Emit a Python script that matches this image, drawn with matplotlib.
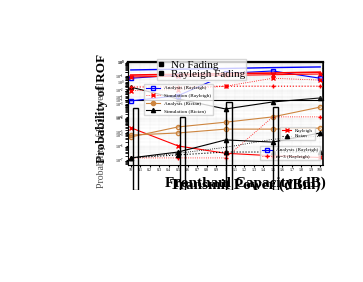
import matplotlib
matplotlib.use("Agg")
import matplotlib.pyplot as plt
import numpy as np
from matplotlib.lines import Line2D

plt.rcParams['font.family'] = ['Liberation Serif', 'DejaVu Serif']

W, H = 363, 282

# ---- data ----
snr = [0, 5, 10, 15, 20]
xtick_labels = ["10", "0.1", "0.2", "0.3", "0.4", "0.5", "0.6", "0.7", "0.8", "0.9", "1",
                "1.1", "1.2", "1.3", "1.4", "1.5", "1.6", "1.7", "1.8", "1.9", "100"]

# lower panel (log scale)
ray_ana = [2e-5, 1e-6, 3e-7, 2e-7, 1.5e-7]
ray_sim = [1.4e-7, 1.4e-7, 1.4e-7, 1.2e-4, 1.2e-4]
ric_ana1 = [4.4e-6, 2.3e-5, 5e-5, 1.2e-4, 6e-4]
ric_ana2 = [6e-6, 8.5e-6, 1.6e-5, 1.6e-5, 1.9e-5]
ric_sim1 = [1.6e-2, 2.3e-3, 4.4e-4, 1.4e-3, 2.7e-3]
ric_sim2 = [1.4e-7, 3.7e-7, 2.7e-6, 1.9e-6, 8.5e-6]
ric_sim3 = [1.4e-7, 2.3e-7, 3.7e-7, 3.7e-7, 3.7e-7]
ric_sim4 = [1.4e-7, 3e-7, 8e-7, 3e-6, 5e-6]

# upper panel
nf_ana = [0.59, 0.62, 0.65, 0.69, 0.72]
nf_sq = [0.34, 0.42, 0.47, 0.55, 0.34]
ray_top = [0.42, 0.44, 0.46, 0.48, 0.51]
ray_top2 = [0.37, 0.39, 0.41, 0.43, 0.45]
ray_dot = [0.19, 0.19, 0.2, 0.2, 0.2]
ray_dot2 = [0.15, 0.16, 0.2, 0.34, 0.3]

# middle panel
blue_rise = [0.085, 0.17, 2.5]

# bars
bar_h = [0.91, 0.81, 0.98, 0.92]
bar_x = [0.2, 5.2, 10.1, 15.0]


def add_ax(x0, y0, x1, y1, **kw):
    return fig.add_axes([x0 / W, 1 - y1 / H, (x1 - x0) / W, (y1 - y0) / H], **kw)


fig = plt.figure(figsize=(W / 100, H / 100), dpi=100)

# ---------- lower main axes ----------
ax = add_ax(128, 62, 323, 165)
ax.set_yscale('log')
ax.plot(snr, ray_ana, color='red', lw=0.8, marker='x', ms=3)
ax.plot(snr, ray_sim, color='red', lw=0.6, ls=':', marker='+', ms=3)
ax.plot(snr, ric_ana1, color='peru', lw=0.8, marker='o', ms=3, mfc='none')
ax.plot(snr, ric_ana2, color='peru', lw=0.8, marker='o', ms=3, mfc='none')
ax.plot(snr, ric_sim1, color='black', lw=0.8, marker='^', ms=3)
ax.plot(snr, ric_sim2, color='black', lw=0.8, marker='^', ms=3)
ax.plot(snr, ric_sim3, color='black', lw=0.8, ls=':', marker='^', ms=3)
ax.plot(snr, ric_sim4, color='black', lw=0.6, ls=':')
ax.set_xlim(-0.3, 20.3)
ax.set_ylim(10 ** -7.36, 1)
ax.grid(True, which='both', color='0.85', lw=0.3, ls=':')
ax.set_xticks(np.linspace(0, 20, len(xtick_labels)))
ax.set_xticklabels(xtick_labels, fontsize=3)
ax.tick_params(labelsize=3, length=1.5, pad=1)
ax.spines['right'].set_linewidth(1.2)
ax.spines['top'].set_linewidth(1.6)
ax.set_xlabel("Fronthaul Capacity (dB)", fontsize=11, fontweight='bold', labelpad=3, x=0.6)
ax.set_ylabel("Probability of ROF", fontsize=9.5, fontweight='bold', labelpad=5, y=0.55)
leg = ax.legend([Line2D([], [], color='red', marker='x', ms=3, lw=0.8),
                 Line2D([], [], color='black', marker='^', ms=3, lw=0.8, ls=':')],
                ["Rayleigh", "Rician"], fontsize=3.5, loc='upper right',
                bbox_to_anchor=(0.97, 0.39), fancybox=False, handlelength=2,
                borderpad=0.3, labelspacing=0.2)
ax.add_artist(leg)
ax.legend([Line2D([], [], color='blue', marker='s', ms=3, mfc='none', lw=0.8),
           Line2D([], [], color='red', marker='+', ms=3, lw=0.6, ls=':')],
          ["Analysis (Rayleigh)", "m=3 (Rayleigh)"], fontsize=3.8, loc='lower right',
          bbox_to_anchor=(1.0, 0.02), fancybox=False, handlelength=2,
          borderpad=0.3, labelspacing=0.3)

# overlapping second x label / y label
ax2 = add_ax(128, 62, 323, 165)
ax2.patch.set_visible(False)
for s in ax2.spines.values():
    s.set_visible(False)
ax2.set_xticks([])
ax2.set_yticks([])
ax2.set_xlabel("Transmit Power (dBm)", fontsize=11, fontweight='bold', labelpad=10, x=0.6)
ax2.set_ylabel("Probability of ROF overall", fontsize=7, labelpad=16, y=0.29, color='0.3')

# ---------- upper panel ----------
axt = add_ax(128, 62, 323, 100)
axt.patch.set_visible(False)
axt.set_yscale('log')
axt.plot(snr, nf_ana, color='blue', lw=1.0)
axt.plot(snr, nf_sq, color='blue', lw=0.8, marker='s', ms=3, mfc='none')
axt.plot(snr, ray_top, color='red', lw=1.2)
axt.plot(snr, ray_top2, color='red', lw=0.8, marker='x', ms=3)
axt.plot(snr, ray_dot, color='red', lw=0.8, ls=':', marker='+', ms=3)
axt.plot(snr, ray_dot2, color='red', lw=0.6, ls=':', marker='x', ms=2.5)
axt.set_xlim(-0.3, 20.3)
axt.set_ylim(0.08, 1)
axt.set_xticks([])
axt.tick_params(labelsize=3, length=1.5, pad=1)
axt.grid(True, which='both', color='0.85', lw=0.3, ls=':')
axt.legend([Line2D([], [], color='black', marker='s', ms=2.5, lw=0),
            Line2D([], [], color='black', marker='s', ms=2.5, lw=0)],
           ["No Fading", "Rayleigh Fading"], fontsize=8, loc='upper left',
           bbox_to_anchor=(0.15, 1.08), fancybox=False, handlelength=0.5,
           borderpad=0.1, labelspacing=-0.1, handletextpad=0.6, borderaxespad=0)

# ---------- middle panel ----------
axm = add_ax(128, 82, 323, 135)
axm.patch.set_visible(False)
axm.set_yscale('log')
axm.plot(snr[:3], blue_rise, color='blue', lw=0.8, marker='s', ms=3, mfc='none')
axm.set_xlim(-0.3, 20.3)
axm.set_ylim(1e-3, 1)
axm.set_xticks([])
for s in ['top', 'right', 'bottom']:
    axm.spines[s].set_visible(False)
axm.tick_params(labelsize=3, length=1.5, pad=1)
axm.legend([Line2D([], [], color='blue', marker='s', ms=3, mfc='none', lw=0.8),
            Line2D([], [], color='red', marker='x', ms=3, lw=0.6, ls=':'),
            Line2D([], [], color='peru', marker='o', ms=3, lw=0.8),
            Line2D([], [], color='black', marker='^', ms=3, lw=0.8)],
           ["Analysis (Rayleigh)", "Simulation (Rayleigh)", "Analysis (Rician)",
            "Simulation (Rician)"], fontsize=3.8, loc='upper left',
           bbox_to_anchor=(0.07, 1.02), fancybox=False, handlelength=2.5,
           labelspacing=0.55)

# ---------- bars ----------
axb = add_ax(128, 100, 323, 190)
axb.patch.set_visible(False)
axb.bar(bar_x, bar_h, width=0.55, fill=False, edgecolor='black', lw=1.0, align='edge')
axb.set_xlim(-0.3, 20.3)
axb.set_ylim(0, 1)
axb.axis('off')

fig.savefig("out.png", dpi=100, facecolor='white')
